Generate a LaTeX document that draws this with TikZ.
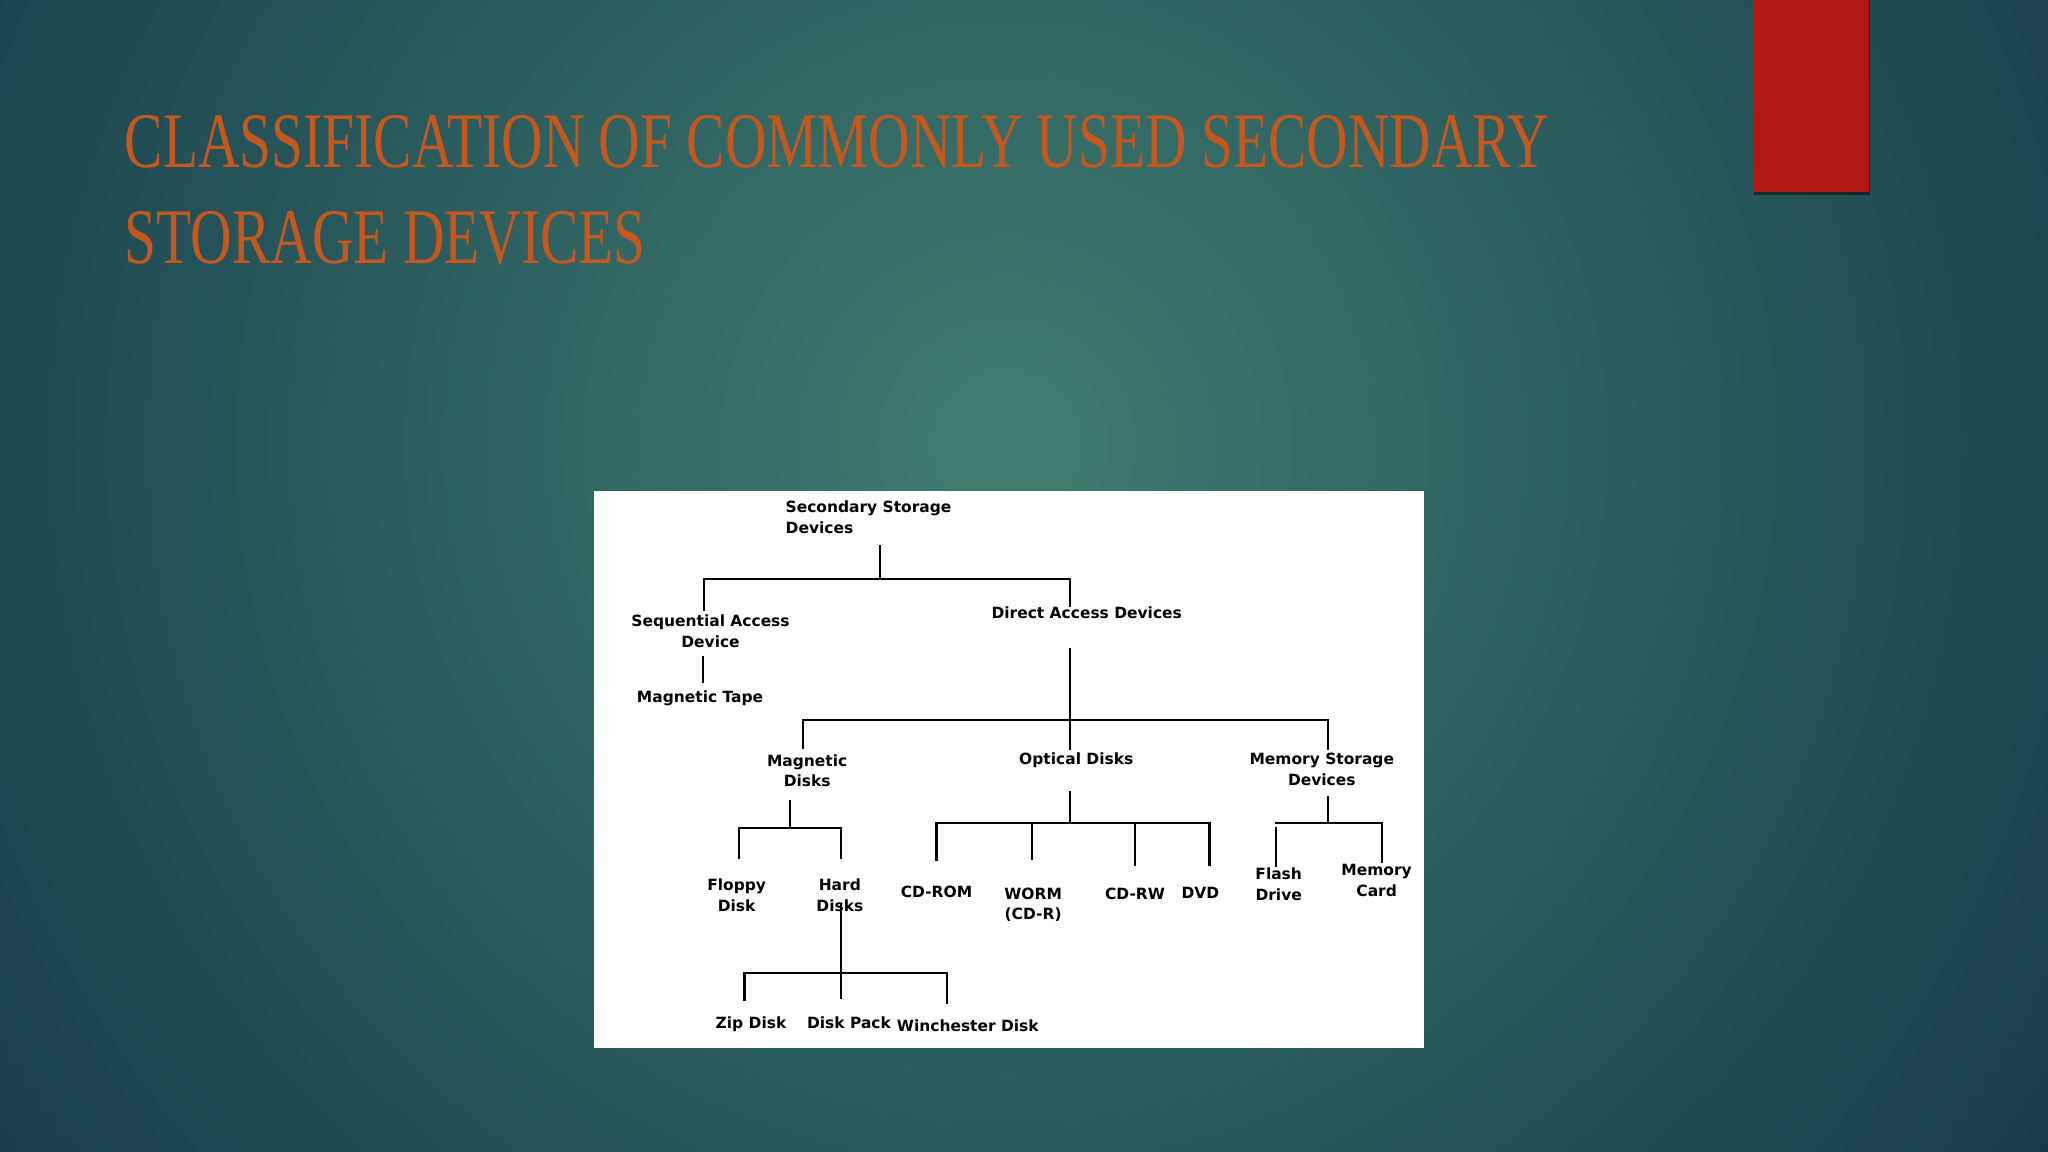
\documentclass[tikz,border=0pt]{standalone}
\usepackage{fontspec}
\setmainfont{Liberation Serif}
\newfontfamily\titlefont{Liberation Serif}[FakeStretch=0.73]
\newfontfamily\chartfont{DejaVu Sans}
\definecolor{bgin}{RGB}{64,124,112}
\definecolor{bgout}{RGB}{20,58,74}
\definecolor{titleorange}{RGB}{196,88,30}
\definecolor{barred}{RGB}{176,22,20}
\tikzset{
	lbl/.style={font=\chartfont\bfseries\fontsize{4.4}{5.95}\selectfont, inner sep=0pt, anchor=north, align=center},
	tree/.style={line width=0.6pt, line cap=rect, black},
	heading/.style={font=\titlefont\fontsize{22.4}{27.5}\selectfont, text=titleorange, anchor=base west, inner sep=0pt},
}
\begin{document}
\begin{tikzpicture}[x=0.013061cm, y=-0.013061cm]
			\useasboundingbox (0,0) rectangle (1568,882);
			\fill[bgout] (0,0) rectangle (1568,882);
			\begin{scope}
				\clip (0,0) rectangle (1568,882);
				\shade[inner color=bgin, outer color=bgout] (770,340) circle[radius=13cm];
			\end{scope}
			\fill[black, opacity=0.45] (1343,0) rectangle (1432,149.5);
			\fill[barred] (1342,0) rectangle (1431,147);
			\node[heading] (title1) at (95,128) {CLASSIFICATION OF COMMONLY USED SECONDARY};
			\node[heading] (title2) at (95,202) {STORAGE DEVICES};
			\fill[white] (455,376) rectangle (1090,802);
			\node[lbl, anchor=north west, align=left] (ssd) at (601,383) {Secondary Storage\\Devices};
			\node[lbl] (sad) at (544,470) {Sequential Access\\Device};
			\node[lbl] (tape) at (536,528) {Magnetic Tape};
			\node[lbl] (dad) at (832,464) {Direct Access Devices};
			\node[lbl] (mdisk) at (618,577) {Magnetic\\Disks};
			\node[lbl] (odisk) at (824,576) {Optical Disks};
			\node[lbl] (msd) at (1012,576) {Memory Storage\\Devices};
			\node[lbl] (floppy) at (564,672) {Floppy\\Disk};
			\node[lbl] (hard) at (643,672) {Hard\\Disks};
			\node[lbl] (cdrom) at (717,678) {CD-ROM};
			\node[lbl] (worm) at (791,679) {WORM\\(CD-R)};
			\node[lbl] (cdrw) at (869,679) {CD-RW};
			\node[lbl] (dvd) at (919,679) {DVD};
			\node[lbl] (flash) at (979,664) {Flash\\Drive};
			\node[lbl] (mcard) at (1054,661) {Memory\\Card};
			\node[lbl] (zip) at (575,778) {Zip Disk};
			\node[lbl] (pack) at (650,778) {Disk Pack};
			\node[lbl] (winch) at (741,780) {Winchester Disk};
			\coordinate (root) at (674,443);
			\coordinate (seqtop) at (539,443);
			\coordinate (dirtop) at (819,443);
			\draw[tree, shorten <=3.3pt] (root |- ssd.south) -- (root);
			\draw[tree] (seqtop) -- (dirtop);
			\draw[tree, shorten >=1.1pt] (seqtop) -- (seqtop |- sad.north);
			\draw[tree] (dirtop) -- (dirtop |- dad.north);
			\coordinate (seqline) at (538,500);
			\draw[tree, shorten <=2.6pt, shorten >=2.2pt] (seqline |- sad.south) -- (seqline |- tape.north);
			\coordinate (dirline) at (819,551);
			\coordinate (magtop) at (615,551);
			\coordinate (memtop) at (1017,551);
			\draw[tree, shorten <=8.5pt, shorten >=1.1pt] (dirline |- dad.south) -- (dirline |- odisk.north);
			\draw[tree] (magtop) -- (memtop);
			\draw[tree, shorten >=1.5pt] (magtop) -- (magtop |- mdisk.north);
			\draw[tree, shorten >=1.1pt] (memtop) -- (memtop |- msd.north);
			\coordinate (magbus) at (605,634);
			\coordinate (flotop) at (566,634);
			\coordinate (hartop) at (644,634);
			\draw[tree, shorten <=3.7pt] (magbus |- mdisk.south) -- (magbus);
			\draw[tree] (flotop) -- (hartop);
			\draw[tree, shorten >=5.6pt] (flotop) -- (flotop |- floppy.north);
			\draw[tree, shorten >=5.6pt] (hartop) -- (hartop |- hard.north);
			\coordinate (optbus) at (819,630);
			\coordinate (romtop) at (717,630);
			\coordinate (wormtop) at (790,630);
			\coordinate (rwtop) at (869,630);
			\coordinate (dvdtop) at (926,630);
			\draw[tree, shorten <=6.7pt] (optbus |- odisk.south) -- (optbus);
			\draw[tree] (romtop) -- (dvdtop);
			\draw[tree, shorten >=7.4pt] (romtop) -- (romtop |- cdrom.north);
			\draw[tree, shorten >=7.8pt] (wormtop) -- (wormtop |- worm.north);
			\draw[tree, shorten >=6.3pt] (rwtop) -- (rwtop |- cdrw.north);
			\draw[tree, shorten >=6.3pt] (dvdtop) -- (dvdtop |- dvd.north);
			\coordinate (membus) at (1017,630);
			\coordinate (flashtop) at (977,630);
			\coordinate (cardtop) at (1058,630);
			\draw[tree, shorten <=3pt] (membus |- msd.south) -- (membus);
			\draw[tree] (flashtop) -- (cardtop);
			\draw[tree, shorten <=1.5pt, shorten >=0.4pt] (flashtop) -- (flashtop |- flash.north);
			\draw[tree, shorten >=0.4pt] (cardtop) -- (cardtop |- mcard.north);
			\coordinate (harbus) at (644,745);
			\coordinate (ziptop) at (570,745);
			\coordinate (wintop) at (725,745);
			\draw[tree, shorten <=-2.2pt, shorten >=5.2pt] (harbus |- hard.south) -- (harbus |- pack.north);
			\draw[tree] (ziptop) -- (wintop);
			\draw[tree, shorten >=4.5pt] (ziptop) -- (ziptop |- zip.north);
			\draw[tree, shorten >=4.5pt] (wintop) -- (wintop |- winch.north);
		\end{tikzpicture}
\end{document}
